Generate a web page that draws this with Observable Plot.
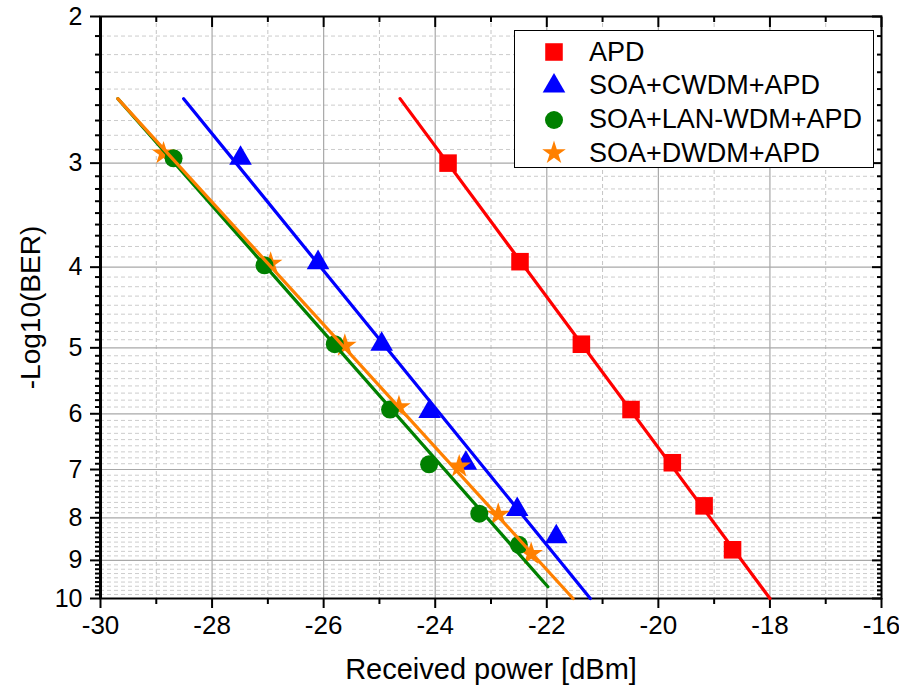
<!DOCTYPE html>
<html><head><meta charset="utf-8">
<script src="https://cdn.jsdelivr.net/npm/d3@7"></script>
<script src="https://cdn.jsdelivr.net/npm/@observablehq/plot@0.6"></script>
<style>
body{margin:0;background:#fff;font-family:"Liberation Sans",Arial,sans-serif;}
#wrap{position:relative;width:899px;height:688px;}
#legend{position:absolute;left:514px;top:30px;width:360px;height:138px;border:1px solid #000;background:#fff;box-sizing:border-box;}
.row{position:absolute;left:0;height:34px;display:flex;align-items:center;}
.row svg{margin-left:22px;}
.row span{margin-left:18px;font-size:27px;color:#000;white-space:nowrap;}
</style></head><body><div id="wrap"></div>
<script>
// series
const seriesNames = ["APD", "SOA+CWDM+APD", "SOA+LAN-WDM+APD", "SOA+DWDM+APD"];
const seriesColors = ["#ff0000", "#0000ff", "#008000", "#ff8000"];
const seriesSymbols = ["square", "triangle", "circle", "star"];
const seriesRadius = [9.9, 8.4, 9, 7.4];

// measured points: received power (dBm) and -log10(BER)
const apdPower  = [-23.77, -22.48, -21.38, -20.49, -19.75, -19.18, -18.67];
const apdBER    = [3.00, 3.94, 4.95, 5.93, 6.87, 7.74, 8.74];
const cwdmPower = [-27.49, -26.10, -24.96, -24.10, -23.45, -22.53, -21.83];
const cwdmBER   = [2.96, 3.95, 4.95, 5.96, 6.88, 7.82, 8.43];
const lanPower  = [-28.69, -27.06, -25.80, -24.81, -24.11, -23.21, -22.50];
const lanBER    = [2.96, 3.98, 4.95, 5.93, 6.90, 7.91, 8.62];
const dwdmPower = [-28.87, -26.95, -25.62, -24.65, -23.57, -22.87, -22.28];
const dwdmBER   = [2.92, 3.96, 4.97, 5.89, 6.94, 7.93, 8.84];

// linear fit lines (end points)
const apdFitPower  = [-24.63, -18.00];
const apdFitBER    = [2.51, 10.0];
const cwdmFitPower = [-28.51, -21.22];
const cwdmFitBER   = [2.51, 10.0];
const lanFitPower  = [-29.69, -21.98];
const lanFitBER    = [2.51, 9.68];
const dwdmFitPower = [-29.69, -21.53];
const dwdmFitBER   = [2.51, 10.0];

// axes
const xTicks = [-30, -28, -26, -24, -22, -20, -18, -16];
const xMinorTicks = [-29, -27, -25, -23, -21, -19, -17];
const yTicks = [2, 3, 4, 5, 6, 7, 8, 9, 10];
const yMinorDivisions = 9;

const powers = [apdPower, cwdmPower, lanPower, dwdmPower];
const bers = [apdBER, cwdmBER, lanBER, dwdmBER];
const fitPowers = [apdFitPower, cwdmFitPower, lanFitPower, dwdmFitPower];
const fitBers = [apdFitBER, cwdmFitBER, lanFitBER, dwdmFitBER];

const points = seriesNames.map((s, i) => powers[i].map((p, j) => ({series: s, power: p, ber: bers[i][j]})));
const fits = seriesNames.map((s, i) => fitPowers[i].map((p, j) => ({series: s, power: p, ber: fitBers[i][j]})));

const yMinorTicks = [];
for (let k = 0; k < yTicks.length - 1; k++)
  for (let j = 1; j < yMinorDivisions; j++)
    yMinorTicks.push(yTicks[k] + j * (yTicks[k + 1] - yTicks[k]) / yMinorDivisions);

const innerX = xTicks.slice(1, -1);
const innerY = yTicks.slice(1, -1);
const fmt = d => String(d);
const none = () => "";

const dotOrder = [0, 1, 3, 2];
const lineOrder = [0, 1, 2, 3];

const chart = Plot.plot({
  width: 899, height: 688,
  marginTop: 16, marginRight: 18, marginBottom: 90, marginLeft: 100,
  style: {fontFamily: "'Liberation Sans', Arial, sans-serif", fontSize: "24px", color: "#000", background: "#fff"},
  x: {domain: [-30, -16], axis: null},
  y: {type: "log", domain: [2, 10], reverse: true, axis: null},
  marks: [
    Plot.ruleX(xMinorTicks, {stroke: "#c4c4c4", strokeDasharray: "4,3"}),
    Plot.ruleY(yMinorTicks, {stroke: "#cccccc", strokeDasharray: "4,3"}),
    Plot.ruleX(innerX, {stroke: "#a8a8a8", strokeWidth: 1.2}),
    Plot.ruleY(innerY, {stroke: "#a8a8a8", strokeWidth: 1.2}),
    // bottom axis
    Plot.axisX(xTicks, {anchor: "bottom", tickSize: 10, tickPadding: 7, tickFormat: fmt, fontSize: 26, label: null, strokeWidth: 2}),
    Plot.axisX(xMinorTicks, {anchor: "bottom", tickSize: 6, tickFormat: none, label: null, strokeWidth: 2}),
    Plot.axisX([], {anchor: "bottom", label: "Received power [dBm]", labelAnchor: "center", labelArrow: "none", labelOffset: 80, fontSize: 29}),
    // top axis (inward)
    Plot.axisX(xTicks, {anchor: "top", tickSize: -10, tickFormat: none, label: null, strokeWidth: 2}),
    Plot.axisX(xMinorTicks, {anchor: "top", tickSize: -5, tickFormat: none, label: null, strokeWidth: 2}),
    // left axis
    Plot.axisY(yTicks, {anchor: "left", tickSize: 10, tickPadding: 8, tickFormat: fmt, fontSize: 25, label: null, strokeWidth: 2}),
    Plot.axisY(yMinorTicks, {anchor: "left", tickSize: 5, tickFormat: none, label: null, strokeWidth: 2}),
    Plot.axisY([], {anchor: "left", label: "-Log10(BER)", labelAnchor: "center", labelArrow: "none", labelOffset: 80, fontSize: 28}),
    // right axis (inward)
    Plot.axisY(yTicks, {anchor: "right", tickSize: -10, tickFormat: none, label: null, strokeWidth: 2}),
    Plot.axisY(yMinorTicks, {anchor: "right", tickSize: -5, tickFormat: none, label: null, strokeWidth: 2}),
    Plot.frame({stroke: "#000", strokeWidth: 2}),
    ...dotOrder.map(i => Plot.dot(points[i], {x: "power", y: "ber", symbol: () => seriesSymbols[i],
      fill: seriesColors[i], stroke: "none", r: seriesRadius[i]})),
    ...lineOrder.map(i => Plot.line(fits[i], {x: "power", y: "ber", stroke: seriesColors[i], strokeWidth: 3.2})),
    Plot.ruleX([-30], {stroke: "#000", strokeWidth: 3})
  ]
});

const wrap = document.getElementById("wrap");
wrap.appendChild(chart);

// legend
const legend = document.createElement("div");
legend.id = "legend";
const d3Types = {square: d3.symbolSquare, triangle: d3.symbolTriangle, circle: d3.symbolCircle, star: d3.symbolStar};
seriesNames.forEach((name, i) => {
  const row = document.createElement("div");
  row.className = "row";
  row.style.top = (4 + i * 33.8) + "px";
  const svg = d3.create("svg").attr("width", 34).attr("height", 34);
  svg.append("path")
    .attr("transform", "translate(17,17)")
    .attr("d", d3.symbol(d3Types[seriesSymbols[i]], Math.PI * seriesRadius[i] ** 2)())
    .attr("fill", seriesColors[i]);
  row.appendChild(svg.node());
  const span = document.createElement("span");
  span.textContent = name;
  row.appendChild(span);
  legend.appendChild(row);
});
wrap.appendChild(legend);
</script>
</body></html>
